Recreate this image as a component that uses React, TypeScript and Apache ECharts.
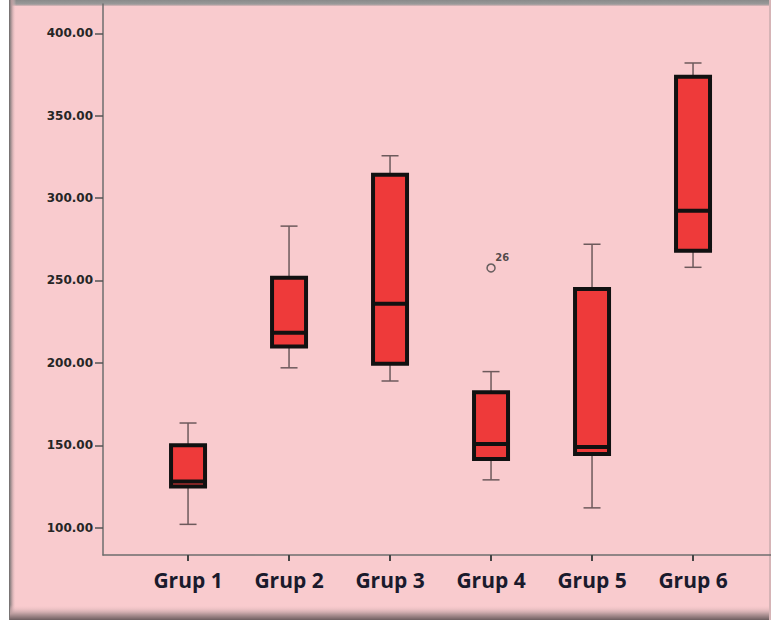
import React, { useEffect, useRef } from "react";
import * as echarts from "echarts";

const categories = ["Grup 1", "Grup 2", "Grup 3", "Grup 4", "Grup 5", "Grup 6"];
const mins = [102, 197, 189, 129, 112, 258];
const q1s = [125, 210, 199.5, 141.7, 144.7, 268];
const medians = [128, 218.3, 235.9, 150.8, 149, 292.3];
const q3s = [150, 251.7, 314.2, 182.1, 244.8, 373.7];
const maxs = [163.5, 283, 325.7, 194.7, 272, 382];
const outlierGroup = [3];
const outlierValues = [257.6];
const outlierLabels = ["26"];
const yTicks = [100, 150, 200, 250, 300, 350, 400];

const PINK = "#f9cbce";
const RED = "#ee3a3a";

export default function App() {
  const ref = useRef<HTMLDivElement>(null);
  useEffect(() => {
    if (!ref.current) return;
    const chart = echarts.init(ref.current, null, { renderer: "svg" });
    const boxData = categories.map((_, i) => [i, mins[i], q1s[i], medians[i], q3s[i], maxs[i]]);
    const outData = outlierGroup.map((g, i) => [g, outlierValues[i]]);
    chart.setOption({
      animation: false,
      backgroundColor: "#ffffff",
      graphic: [
        { type: "rect", z: -10, shape: { x: 10, y: 0, width: 761, height: 620 }, style: { fill: PINK } },
        {
          type: "rect", z: -9, shape: { x: 10, y: 0, width: 761, height: 6 },
          style: { fill: new echarts.graphic.LinearGradient(0, 0, 0, 1, [
            { offset: 0, color: "#8a8a8a" }, { offset: 0.7, color: "#9a9a9a" }, { offset: 1, color: "rgba(200,170,172,0.6)" },
          ]) },
        },
        {
          type: "rect", z: -9, shape: { x: 9, y: 0, width: 7, height: 620 },
          style: { fill: new echarts.graphic.LinearGradient(0, 0, 1, 0, [
            { offset: 0, color: "#6a6a6a" }, { offset: 0.35, color: "#b49a9c" }, { offset: 1, color: "rgba(249,203,206,0)" },
          ]) },
        },
        {
          type: "rect", z: -9, shape: { x: 10, y: 605, width: 761, height: 15 },
          style: { fill: new echarts.graphic.LinearGradient(0, 0, 0, 1, [
            { offset: 0, color: "rgba(249,203,206,0)" }, { offset: 0.6, color: "#b89a9c" }, { offset: 1, color: "#6e5e60" },
          ]) },
        },
        {
          type: "rect", z: -9, shape: { x: 769, y: 0, width: 2, height: 620 },
          style: { fill: "#d6b4b6" },
        },
      ],
      grid: { left: 103, right: 0, top: 4, bottom: 71, containLabel: false },
      xAxis: {
        type: "value",
        min: -0.842,
        max: 5.772,
        splitLine: { show: false },
        axisLine: { show: true, onZero: false, lineStyle: { color: "#6e6e6e", width: 1.5 } },
        axisTick: { show: true, length: 6, customValues: categories.map((_, i) => i), lineStyle: { color: "#444", width: 2 } },
        axisLabel: {
          customValues: categories.map((_, i) => i),
          formatter: (v: number) => categories[Math.round(v)] ?? "",
          fontFamily: "Open Sans",
          fontWeight: "bold",
          fontSize: 21,
          color: "#1a1a2c",
          margin: 14,
        },
      },
      yAxis: {
        type: "value",
        min: 83.4,
        max: 417.8,
        splitLine: { show: false },
        axisLine: { show: true, onZero: false, lineStyle: { color: "#6e6e6e", width: 1.5 } },
        axisTick: { show: true, length: 8, customValues: yTicks, lineStyle: { color: "#555", width: 1.5 } },
        axisLabel: {
          customValues: yTicks,
          formatter: (v: number) => v.toFixed(2),
          fontFamily: "DejaVu Sans",
          fontWeight: "bold",
          fontSize: 12,
          color: "#262626",
          margin: 10,
        },
      },
      series: [
        {
          type: "custom",
          data: boxData,
          encode: { x: 0, y: [1, 2, 3, 4, 5] },
          renderItem: (params: any, api: any) => {
            const x = api.value(0);
            const pMin = api.coord([x, api.value(1)]);
            const pQ1 = api.coord([x, api.value(2)]);
            const pMed = api.coord([x, api.value(3)]);
            const pQ3 = api.coord([x, api.value(4)]);
            const pMax = api.coord([x, api.value(5)]);
            const cx = pMin[0];
            const bw = 34;
            const cw = 17;
            const whisk = { stroke: "#6d5a5c", lineWidth: 1.5 };
            return {
              type: "group",
              children: [
                { type: "line", shape: { x1: cx, y1: pMax[1], x2: cx, y2: pQ3[1] }, style: whisk },
                { type: "line", shape: { x1: cx - cw / 2, y1: pMax[1], x2: cx + cw / 2, y2: pMax[1] }, style: whisk },
                { type: "line", shape: { x1: cx, y1: pMin[1], x2: cx, y2: pQ1[1] }, style: whisk },
                { type: "line", shape: { x1: cx - cw / 2, y1: pMin[1], x2: cx + cw / 2, y2: pMin[1] }, style: whisk },
                {
                  type: "rect",
                  shape: { x: cx - bw / 2, y: pQ3[1], width: bw, height: pQ1[1] - pQ3[1] },
                  style: { fill: RED, stroke: "#111", lineWidth: 4 },
                },
                {
                  type: "line",
                  shape: { x1: cx - bw / 2, y1: pMed[1], x2: cx + bw / 2, y2: pMed[1] },
                  style: { stroke: "#111", lineWidth: 4 },
                },
              ],
            };
          },
        },
        {
          type: "scatter",
          data: outData,
          symbol: "circle",
          symbolSize: 8,
          itemStyle: { color: "rgba(0,0,0,0)", borderColor: "#444", borderWidth: 1.5 },
          label: {
            show: true,
            formatter: (p: any) => outlierLabels[p.dataIndex],
            position: [9, -11],
            fontFamily: "DejaVu Sans",
            fontWeight: "bold",
            fontSize: 10,
            color: "#262626",
          },
        },
      ],
    });
    return () => chart.dispose();
  }, []);
  return (
    <div
      ref={ref}
      style={{ position: "fixed", left: 0, top: 0, width: 771, height: 626 }}
    />
  );
}
